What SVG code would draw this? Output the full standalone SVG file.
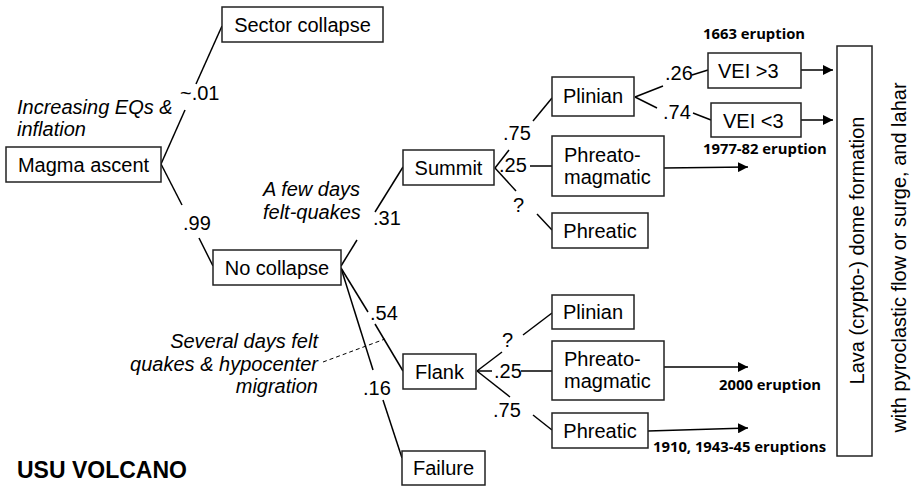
<svg xmlns="http://www.w3.org/2000/svg" width="913" height="487" viewBox="0 0 913 487">
  <defs>
    <marker id="arrow" viewBox="0 0 10 10" refX="10" refY="5" markerWidth="10" markerHeight="10" markerUnits="userSpaceOnUse" orient="auto">
      <path d="M0,0 L10,5 L0,10 Z" fill="#000"/>
    </marker>
    <style>
      .box { fill: #fff; stroke: #222; stroke-width: 1.5; }
      .t { font-family: "Liberation Sans", Arial, sans-serif; font-size: 20px; fill: #000; }
      .c { text-anchor: middle; }
      .it { font-style: italic; }
      .p { font-family: "Liberation Sans", Arial, sans-serif; font-size: 20px; fill: #000; }
      .yr { font-family: "Open Sans", "Liberation Sans", sans-serif; font-size: 14.8px; font-weight: bold; fill: #000; }
      .ln { fill: none; stroke: #000; stroke-width: 1.5; }
      .arr { fill: none; stroke: #000; stroke-width: 1.5; marker-end: url(#arrow); }
      .dash { fill: none; stroke: #000; stroke-width: 1; stroke-dasharray: 4 3; }
    </style>
  </defs>

  <!-- branches between events -->
  <g id="connectors">
    <!-- Magma ascent -> Sector collapse / No collapse -->
    <line class="ln" x1="161" y1="164" x2="185" y2="110"/>
    <line class="ln" x1="196" y1="84" x2="222" y2="26"/>
    <line class="ln" x1="161" y1="164" x2="182" y2="205"/>
    <line class="ln" x1="199" y1="238" x2="213" y2="266"/>
    <!-- No collapse -> Summit / Flank / Failure -->
    <line class="ln" x1="341" y1="266" x2="357" y2="240"/>
    <line class="ln" x1="375" y1="212" x2="403" y2="167"/>
    <line class="ln" x1="341" y1="268" x2="368" y2="312"/>
    <line class="ln" x1="375" y1="324" x2="403" y2="371"/>
    <line class="ln" x1="341" y1="268" x2="373" y2="370"/>
    <line class="ln" x1="383" y1="400" x2="402" y2="458"/>
    <line class="dash" x1="323" y1="362" x2="385" y2="339"/>
    <!-- Summit -> Plinian / Phreato-magmatic / Phreatic -->
    <line class="ln" x1="495" y1="168" x2="509" y2="150"/>
    <line class="ln" x1="533" y1="121" x2="552" y2="98"/>
    <line class="ln" x1="530" y1="166" x2="552" y2="166"/>
    <line class="ln" x1="495" y1="168" x2="516" y2="191"/>
    <line class="ln" x1="537" y1="214" x2="552" y2="230"/>
    <!-- Plinian -> VEI -->
    <line class="ln" x1="635" y1="97" x2="663" y2="86"/>
    <line class="ln" x1="692" y1="75" x2="708" y2="70"/>
    <line class="ln" x1="635" y1="97" x2="657" y2="108"/>
    <line class="ln" x1="693" y1="113" x2="711" y2="120"/>
    <!-- Flank -> Plinian / Phreato-magmatic / Phreatic -->
    <line class="ln" x1="477" y1="371" x2="502" y2="352"/>
    <line class="ln" x1="523" y1="335" x2="552" y2="313"/>
    <line class="ln" x1="477" y1="371" x2="492" y2="371"/>
    <line class="ln" x1="521" y1="371" x2="552" y2="371"/>
    <line class="ln" x1="477" y1="371" x2="510" y2="397"/>
    <line class="ln" x1="533" y1="415" x2="552" y2="430"/>
    <!-- outcomes into dome formation -->
    <line class="arr" x1="801" y1="70" x2="833" y2="70"/>
    <line class="arr" x1="801" y1="120" x2="833" y2="120"/>
    <line class="arr" x1="664" y1="168" x2="748" y2="167"/>
    <line class="arr" x1="664" y1="367" x2="748" y2="367"/>
    <line class="arr" x1="648" y1="431" x2="748" y2="428"/>
  </g>

  <!-- branch probabilities and notes -->
  <g id="labels">
    <text class="p" x="180" y="100">~.01</text>
    <text class="p" x="183" y="230">.99</text>
    <text class="p" x="373" y="225">.31</text>
    <text class="p" x="370" y="320">.54</text>
    <text class="p" x="363" y="395">.16</text>
    <text class="p" x="503" y="140">.75</text>
    <text class="p" x="499" y="172">.25</text>
    <text class="p" x="513" y="212">?</text>
    <text class="p" x="665" y="80">.26</text>
    <text class="p" x="663" y="119">.74</text>
    <text class="p" x="502" y="347">?</text>
    <text class="p" x="494" y="378">.25</text>
    <text class="p" x="493" y="417">.75</text>
    <text class="t it" x="17" y="114">Increasing EQs &amp;</text>
    <text class="t it" x="17" y="136">inflation</text>
    <text class="t it" x="263" y="196">A few days</text>
    <text class="t it" x="263" y="219">felt-quakes</text>
    <text class="t it" x="318" y="348" text-anchor="end">Several days felt</text>
    <text class="t it" x="318" y="371" text-anchor="end">quakes &amp; hypocenter</text>
    <text class="t it" x="318" y="393" text-anchor="end">migration</text>
    <text class="yr" x="703" y="39">1663 eruption</text>
    <text class="yr" x="703" y="154">1977-82 eruption</text>
    <text class="yr" x="719" y="390">2000 eruption</text>
    <text class="yr" x="653" y="452">1910, 1943-45 eruptions</text>
    <text class="t" x="906" y="257.5" text-anchor="middle" transform="rotate(-90 906 257.5)">with pyroclastic flow or surge, and lahar</text>
    <text x="17" y="478" font-family="Liberation Sans, Arial, sans-serif" font-size="23" font-weight="bold">USU VOLCANO</text>
  </g>

  <g id="magma-ascent">
    <rect class="box" x="6" y="147" width="155" height="35"/>
    <text class="t c" x="83.5" y="171.5">Magma ascent</text>
  </g>
  <g id="sector-collapse">
    <rect class="box" x="222" y="7" width="161" height="35"/>
    <text class="t c" x="302.5" y="31.5">Sector collapse</text>
  </g>
  <g id="no-collapse">
    <rect class="box" x="213" y="250" width="128" height="35"/>
    <text class="t c" x="277" y="274.5">No collapse</text>
  </g>
  <g id="summit">
    <rect class="box" x="403" y="150" width="91" height="35"/>
    <text class="t c" x="448.5" y="174.5">Summit</text>
  </g>
  <g id="flank">
    <rect class="box" x="403" y="354" width="73" height="35"/>
    <text class="t c" x="439.5" y="378.5">Flank</text>
  </g>
  <g id="failure">
    <rect class="box" x="402" y="451" width="83" height="34"/>
    <text class="t c" x="443.5" y="475">Failure</text>
  </g>
  <g id="summit-plinian">
    <rect class="box" x="552" y="77" width="82" height="39"/>
    <text class="t c" x="593" y="103">Plinian</text>
  </g>
  <g id="summit-phreatomagmatic">
    <rect class="box" x="552" y="136" width="112" height="60"/>
    <text class="t" x="564" y="162">Phreato-</text>
    <text class="t" x="564" y="184">magmatic</text>
  </g>
  <g id="summit-phreatic">
    <rect class="box" x="552" y="213" width="96" height="35"/>
    <text class="t c" x="600" y="238">Phreatic</text>
  </g>
  <g id="flank-plinian">
    <rect class="box" x="552" y="295" width="82" height="34"/>
    <text class="t c" x="593" y="319">Plinian</text>
  </g>
  <g id="flank-phreatomagmatic">
    <rect class="box" x="552" y="341" width="112" height="59"/>
    <text class="t" x="564" y="366">Phreato-</text>
    <text class="t" x="564" y="388">magmatic</text>
  </g>
  <g id="flank-phreatic">
    <rect class="box" x="552" y="413" width="96" height="35"/>
    <text class="t c" x="600" y="437.5">Phreatic</text>
  </g>
  <g id="vei-high">
    <rect class="box" x="708" y="53" width="93" height="35"/>
    <text class="t" x="718" y="78">VEI &gt;3</text>
  </g>
  <g id="vei-low">
    <rect class="box" x="711" y="103" width="90" height="34"/>
    <text class="t" x="723" y="128">VEI &lt;3</text>
  </g>
  <g id="dome-formation">
    <rect class="box" x="837" y="46" width="35" height="410"/>
    <text class="t c" x="864" y="250.5" transform="rotate(-90 864 250.5)">Lava (crypto-) dome formation</text>
  </g>
</svg>
